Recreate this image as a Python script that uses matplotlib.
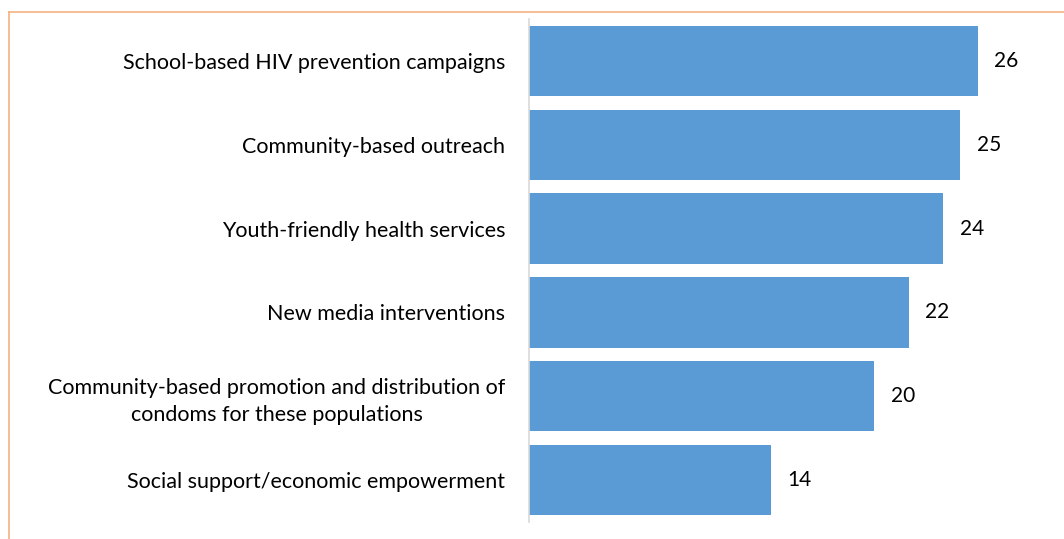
import matplotlib.pyplot as plt
import numpy as np

interventions = [
    "School-based HIV prevention campaigns",
    "Community-based outreach",
    "Youth-friendly health services",
    "New media interventions",
    "Community-based promotion and distribution of\ncondoms for these populations",
    "Social support/economic empowerment",
]
counts = [26, 25, 24, 22, 20, 14]

BAR_COLOR = "#5b9bd5"
FRAME_COLOR = "#f4b183"

plt.rcParams["font.family"] = ["Lato", "DejaVu Sans"]

fig = plt.figure(figsize=(10.64, 5.39), dpi=100)

# orange frame, only its top and left edges fall inside the canvas
fig.add_artist(plt.Line2D([9 / 1064, 1.0], [1 - 12 / 539, 1 - 12 / 539],
                          transform=fig.transFigure, color=FRAME_COLOR, lw=1.2))
fig.add_artist(plt.Line2D([9 / 1064, 9 / 1064], [0.0, 1 - 12 / 539],
                          transform=fig.transFigure, color=FRAME_COLOR, lw=1.2))

ax = fig.add_axes([529 / 1064, 17 / 539, 1 - 529 / 1064, 503 / 539])

y = np.arange(len(counts))
ax.barh(y, counts, height=0.84, color=BAR_COLOR)
ax.set_ylim(len(counts) - 0.5, -0.5)
ax.set_xlim(0, 31)

for yi, v in zip(y, counts):
    ax.text(v + 0.95, yi, str(v), va="center", ha="left", fontsize=15, color="#000000")

ax.set_yticks(y)
ax.set_yticklabels(interventions, fontsize=15.5, multialignment="center",
                   linespacing=1.4)
ax.tick_params(axis="y", length=0, pad=17)
ax.set_xticks([])

for side in ["top", "right", "bottom"]:
    ax.spines[side].set_visible(False)
ax.spines["left"].set_color("#d9d9d9")
ax.spines["left"].set_linewidth(1.2)

fig.savefig("out.png", dpi=100)
